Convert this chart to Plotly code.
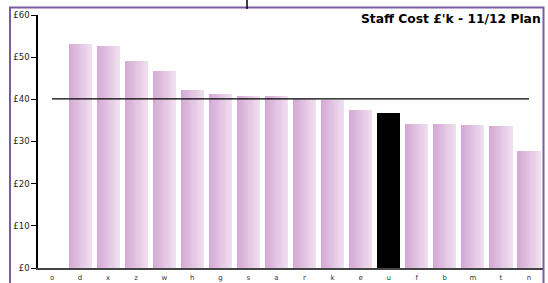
import plotly.graph_objects as go

categories = ["o", "d", "x", "z", "w", "h", "g", "s", "a", "r", "k", "e", "u", "f", "b", "m", "t", "n"]
staff_cost = [None, 53.1, 52.6, 49.0, 46.7, 42.3, 41.2, 40.8, 40.7, 40.1, 39.8, 37.4, 36.7, 34.1, 34.1, 33.9, 33.6, 27.7]
highlight = "u"
target = [40.1] * len(categories)
y_ticks = [0, 10, 20, 30, 40, 50, 60]
y_tick_labels = ["£0", "£10", "£20", "£30", "£40", "£50", "£60"]

fig = go.Figure()

# gradient bars made of narrow slices
n_slices = 10
bar_w = 0.82
dark = (214, 170, 214)
light = (238, 222, 238)
for i in range(n_slices):
    t = i / (n_slices - 1)
    c = tuple(round(dark[k] + (light[k] - dark[k]) * t) for k in range(3))
    col = "rgb(%d,%d,%d)" % c
    vals = [None if (v is None or cat == highlight) else v for cat, v in zip(categories, staff_cost)]
    fig.add_trace(go.Bar(
        x=categories, y=vals,
        width=bar_w / n_slices + 0.004,
        offset=-bar_w / 2 + i * bar_w / n_slices,
        marker=dict(color=col, line=dict(width=0)),
        showlegend=False, hoverinfo="skip",
    ))

fig.add_trace(go.Bar(
    x=categories,
    y=[v if cat == highlight else None for cat, v in zip(categories, staff_cost)],
    width=bar_w, marker=dict(color="black", line=dict(width=0)),
    showlegend=False,
))

fig.add_trace(go.Scatter(
    x=categories, y=target, mode="lines",
    line=dict(color="black", width=1.2), showlegend=False,
))

fig.update_layout(
    width=548, height=283,
    margin=dict(l=38, r=5, t=15, b=15, autoexpand=False),
    paper_bgcolor="white", plot_bgcolor="white",
    barmode="overlay", bargap=0,
    font=dict(family="DejaVu Sans, Verdana, sans-serif", color="black"),
    xaxis=dict(
        type="category", categoryorder="array", categoryarray=categories,
        showgrid=False, showline=True, linecolor="#444444", linewidth=1.5,
        ticks="", tickfont=dict(size=7, color="#333333"), ticklabelstandoff=2,
        zeroline=False, fixedrange=True, automargin=False,
    ),
    yaxis=dict(
        range=[0, 60], tickvals=y_ticks, ticktext=y_tick_labels,
        showgrid=False, showline=True, linecolor="black", linewidth=1.5,
        ticks="outside", ticklen=5, tickcolor="black", tickwidth=1.2,
        tickfont=dict(size=8.5, color="#222222"), zeroline=False, automargin=False,
    ),
    annotations=[dict(
        text="<b>Staff Cost £'k - 11/12 Plan</b>", xref="paper", yref="paper",
        x=1.0, y=1.02, xanchor="right", yanchor="top", showarrow=False,
        font=dict(size=12.3, color="black"),
    )],
    shapes=[
        dict(type="rect", xref="paper", yref="paper",
             x0=(10 - 38) / 505, x1=(543.5 - 38) / 505,
             y0=(268 - 300) / 253, y1=(268 - 7.5) / 253,
             line=dict(color="#7b5aa6", width=2), layer="above"),
        dict(type="line", xref="paper", yref="paper",
             x0=(247 - 38) / 505, x1=(247 - 38) / 505,
             y0=(268 - 0) / 253, y1=(268 - 9) / 253,
             line=dict(color="black", width=1.5)),
    ],
)

fig.write_html("out.html", config={"displayModeBar": False},
               post_script="document.body.style.margin='0';document.body.style.overflow='hidden';")
